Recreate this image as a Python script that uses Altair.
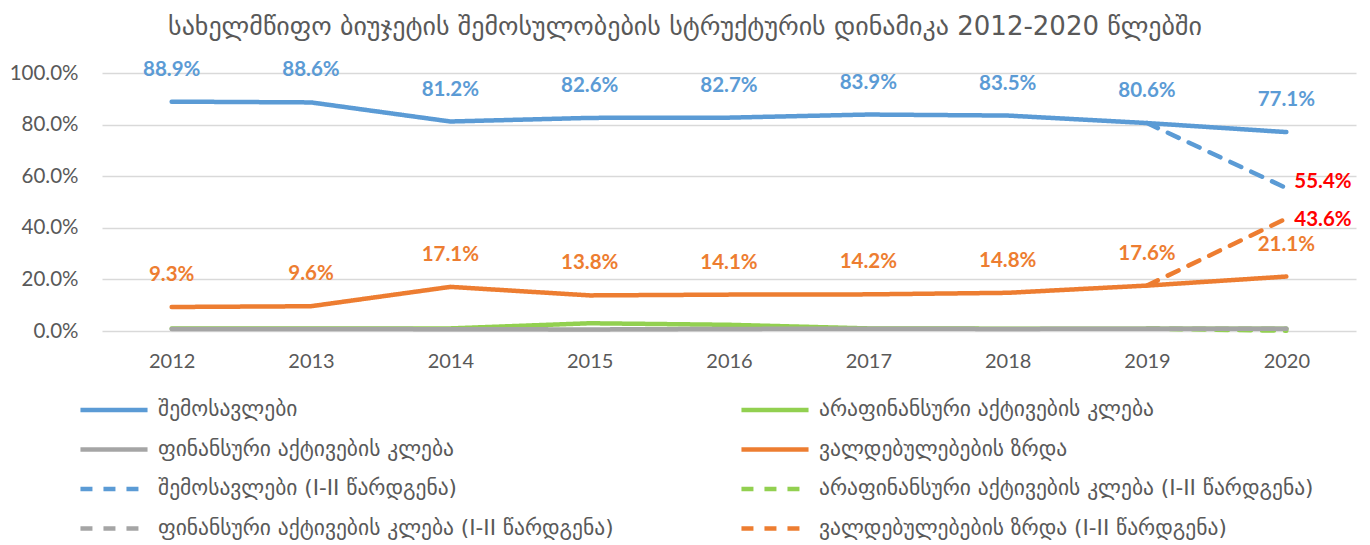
import altair as alt
import pandas as pd

# ---------------- data ----------------
years = ["2012", "2013", "2014", "2015", "2016", "2017", "2018", "2019", "2020"]

name_income = "შემოსავლები"
name_nonfin = "არაფინანსური აქტივების კლება"
name_fin = "ფინანსური აქტივების კლება"
name_liab = "ვალდებულებების ზრდა"
suffix = " (I-II წარდგენა)"

income = [88.9, 88.6, 81.2, 82.6, 82.7, 83.9, 83.5, 80.6, 77.1]
nonfin = [1.0, 1.0, 1.0, 3.0, 2.4, 1.0, 0.9, 0.9, 0.9]
fin = [0.8, 0.8, 0.7, 0.6, 0.8, 0.9, 0.8, 0.9, 0.9]
liab = [9.3, 9.6, 17.1, 13.8, 14.1, 14.2, 14.8, 17.6, 21.1]

alt_years = ["2019", "2020"]
income_alt = [80.6, 55.4]
nonfin_alt = [0.9, 0.1]
fin_alt = [0.9, 0.9]
liab_alt = [17.6, 43.6]

title_text = "სახელმწიფო ბიუჯეტის შემოსულობების სტრუქტურის დინამიკა 2012-2020 წლებში"

# legend order (filled column by column: left column first, then right column)
domain = [
    name_income, name_fin, name_income + suffix, name_fin + suffix,
    name_nonfin, name_liab, name_nonfin + suffix, name_liab + suffix,
]
colors = ["#5B9BD5", "#A5A5A5", "#5B9BD5", "#A5A5A5",
          "#92D050", "#ED7D31", "#92D050", "#ED7D31"]
dashes = [[1, 0], [1, 0], [12, 11], [12, 11],
          [1, 0], [1, 0], [12, 11], [12, 11]]

rows = []
for name, vals in [(name_income + suffix, income_alt), (name_liab + suffix, liab_alt),
                   (name_nonfin + suffix, nonfin_alt), (name_fin + suffix, fin_alt)]:
    for y, v in zip(alt_years, vals):
        rows.append({"year": y, "series": name, "value": v})
for name, vals in [(name_income, income), (name_liab, liab),
                   (name_nonfin, nonfin), (name_fin, fin)]:
    for y, v in zip(years, vals):
        rows.append({"year": y, "series": name, "value": v})
df = pd.DataFrame(rows)
df["label"] = df["value"].map(lambda v: f"{v:.1f}%")

GREY_TXT = "#595959"
LABEL_FONT = "Lato"
GEO_FONT = "DejaVu Sans"

x_enc = alt.X("year:O", sort=years, scale=alt.Scale(type="point", padding=0.5),
              axis=alt.Axis(title=None, labelAngle=0, domain=False, ticks=False,
                            labelPadding=20, labelFontSize=20, labelFont=LABEL_FONT,
                            labelColor=GREY_TXT))
y_enc = alt.Y("value:Q", scale=alt.Scale(domain=[0, 100], nice=False),
              axis=alt.Axis(title=None, values=[0, 20, 40, 60, 80, 100],
                            labelExpr="format(datum.value, '.1f') + '%'",
                            domain=False, ticks=False, labelPadding=24,
                            labelFontSize=20.5, labelFont=LABEL_FONT, labelColor=GREY_TXT,
                            gridColor="#D9D9D9", gridWidth=1.3))

legend_cfg = dict(title=None, orient="none", legendX=-24, legendY=324, columns=2,
                  columnPadding=125, rowPadding=13.5, clipHeight=26, symbolType="stroke",
                  symbolSize=4500, symbolStrokeWidth=4.5, labelFont=GEO_FONT,
                  labelFontSize=21.5, labelColor=GREY_TXT, labelOffset=8, labelLimit=0)

lines = alt.Chart(df).mark_line(strokeWidth=4.5, strokeCap="round", strokeJoin="round").encode(
    x=x_enc,
    y=y_enc,
    color=alt.Color("series:N", scale=alt.Scale(domain=domain, range=colors),
                    legend=alt.Legend(**legend_cfg)),
    strokeDash=alt.StrokeDash("series:N", scale=alt.Scale(domain=domain, range=dashes),
                              legend=alt.Legend(**legend_cfg)),
)

def value_labels(series, color):
    return alt.Chart(df).transform_filter(alt.datum.series == series).mark_text(
        dy=-32, font=LABEL_FONT, fontWeight="bold", fontSize=20.5, color=color
    ).encode(x=alt.X("year:O", sort=years), y="value:Q", text="label:N")

blue_lbl = value_labels(name_income, "#5B9BD5")
orange_lbl = value_labels(name_liab, "#ED7D31")

red_top = alt.Chart(df).transform_filter(
    (alt.datum.series == name_income + suffix) & (alt.datum.year == "2020")
).mark_text(align="left", dx=8, dy=-6, font=LABEL_FONT, fontWeight="bold",
            fontSize=20.5, color="#FF0000").encode(
    x=alt.X("year:O", sort=years), y="value:Q", text="label:N")
red_bot = alt.Chart(df).transform_filter(
    (alt.datum.series == name_liab + suffix) & (alt.datum.year == "2020")
).mark_text(align="left", dx=8, dy=1, font=LABEL_FONT, fontWeight="bold",
            fontSize=20.5, color="#FF0000").encode(
    x=alt.X("year:O", sort=years), y="value:Q", text="label:N")

chart = alt.layer(lines, blue_lbl, orange_lbl, red_top, red_bot).properties(
    width=1254, height=258,
    padding={"left": 94, "top": 65, "right": 6, "bottom": 212},
    autosize=alt.AutoSizeParams(type="none"),
    title=alt.TitleParams(title_text, font=GEO_FONT, fontSize=26, fontWeight="normal",
                          color=GREY_TXT, anchor="middle", dx=-44, offset=20),
).configure_view(stroke=None)

chart.save("out.html", embed_options={"renderer": "svg", "actions": False})
